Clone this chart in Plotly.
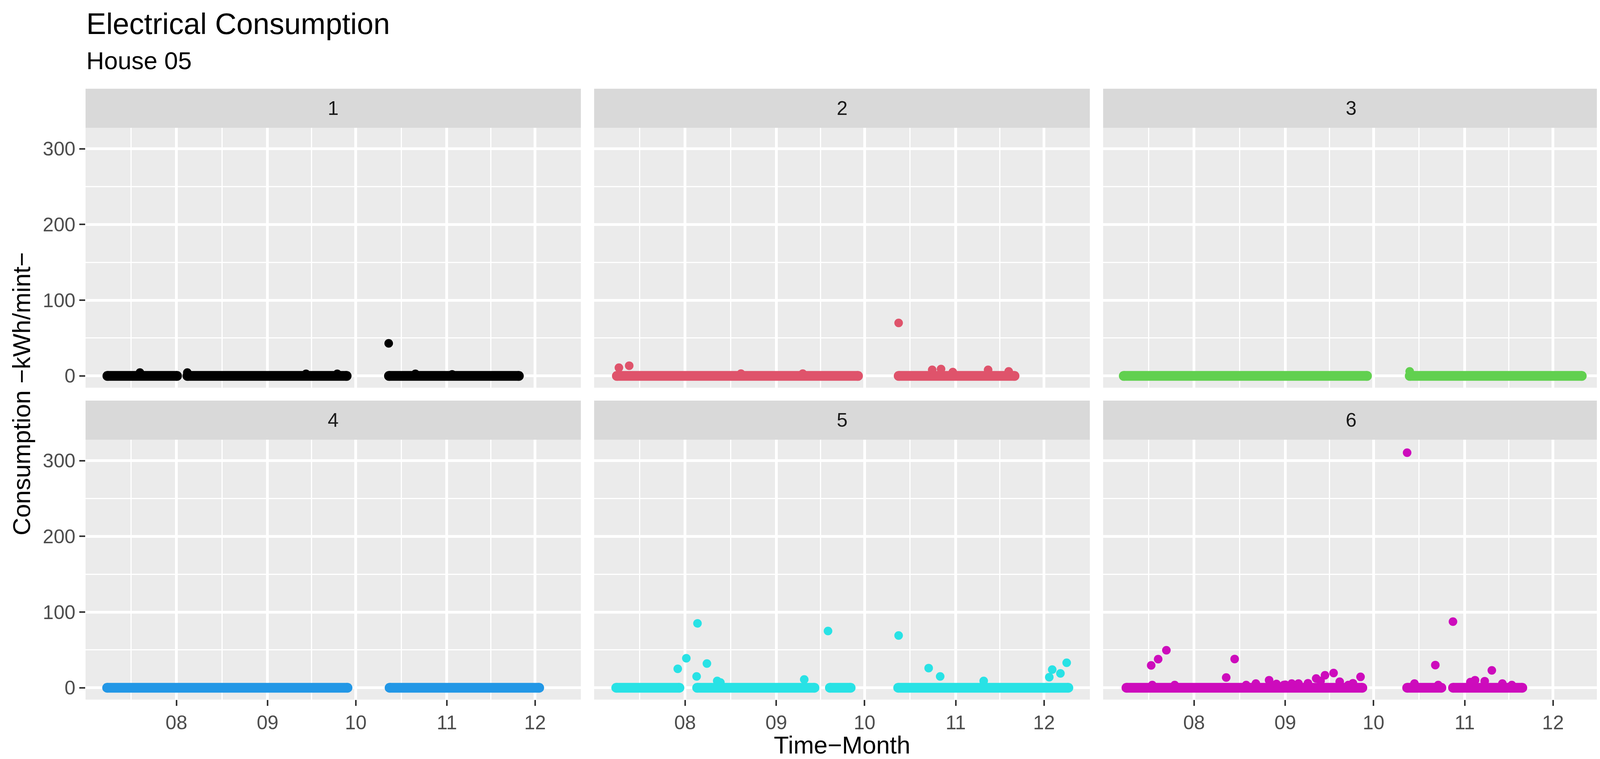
import plotly.graph_objects as go

# ---------------- data ----------------
channels = ["1", "2", "3", "4", "5", "6"]
colors = ["#000000", "#DF536B", "#61D04F", "#2297E6", "#28E2E5", "#CD0BBC"]

# dense runs of near-zero readings: (first reading, last reading)
runs_1 = [("2017-07-08 12:00", "2017-08-01 05:00"), ("2017-08-04 17:00", "2017-09-27 22:00"),
          ("2017-10-12 07:00", "2017-11-25 12:00")]
runs_2 = [("2017-07-08 19:00", "2017-09-28 19:00"), ("2017-10-12 14:00", "2017-11-21 00:00")]
runs_3 = [("2017-07-08 02:00", "2017-09-28 19:00"), ("2017-10-13 07:00", "2017-12-10 19:00")]
runs_4 = [("2017-07-08 10:00", "2017-09-28 05:00"), ("2017-10-12 12:00", "2017-12-02 10:00")]
runs_5 = [("2017-07-08 14:00", "2017-07-30 02:00"), ("2017-08-05 02:00", "2017-09-14 00:00"),
          ("2017-09-19 05:00", "2017-09-26 07:00"), ("2017-10-12 10:00", "2017-12-09 07:00")]
runs_6 = [("2017-07-09 00:00", "2017-09-27 05:00"), ("2017-10-12 10:00", "2017-10-24 02:00"),
          ("2017-10-28 00:00", "2017-11-20 14:00")]

# readings standing out of the runs
peak_time_1 = ["2017-10-12 05:00", "2017-07-19 14:00", "2017-08-04 17:00", "2017-09-14 02:00",
               "2017-09-24 17:00", "2017-10-21 07:00", "2017-11-02 19:00"]
peak_kwh_1 = [43, 4.4, 4.4, 2.7, 2.7, 2.7, 2.0]

peak_time_2 = ["2017-07-09 12:00", "2017-07-13 00:00", "2017-10-12 14:00", "2017-10-24 00:00",
               "2017-10-27 00:00", "2017-11-12 00:00", "2017-11-19 00:00", "2017-08-20 00:00",
               "2017-09-10 00:00", "2017-10-31 00:00"]
peak_kwh_2 = [10.8, 13.5, 70, 8, 9, 8, 6, 3, 3, 5]

peak_time_3 = ["2017-10-13 07:00"]
peak_kwh_3 = [6]

peak_time_4 = []
peak_kwh_4 = []

peak_time_5 = ["2017-07-29 12:00", "2017-08-01 10:00", "2017-08-04 22:00", "2017-08-05 05:00",
               "2017-08-08 10:00", "2017-08-11 22:00", "2017-08-13 00:00", "2017-09-10 12:00",
               "2017-09-18 14:00", "2017-10-12 14:00", "2017-10-22 19:00", "2017-10-26 17:00",
               "2017-11-10 12:00", "2017-12-02 19:00", "2017-12-03 19:00", "2017-12-06 14:00",
               "2017-12-08 17:00"]
peak_kwh_5 = [25, 39, 15, 85, 32, 9, 7, 11, 75, 69, 26, 15, 9, 14, 24, 19, 33]

peak_time_6 = ["2017-07-17 10:00", "2017-07-19 19:00", "2017-07-22 14:00", "2017-08-11 22:00",
               "2017-08-14 19:00", "2017-10-12 10:00", "2017-10-22 00:00", "2017-10-28 00:00",
               "2017-11-10 05:00", "2017-07-17 19:00", "2017-07-25 10:00", "2017-08-18 17:00",
               "2017-08-22 00:00", "2017-08-26 12:00", "2017-08-31 12:00", "2017-09-03 05:00",
               "2017-09-05 12:00", "2017-09-08 17:00", "2017-09-11 12:00", "2017-09-14 12:00",
               "2017-09-17 10:00", "2017-09-22 10:00", "2017-09-26 14:00", "2017-10-14 22:00",
               "2017-10-23 00:00", "2017-11-02 22:00", "2017-11-04 12:00", "2017-11-07 19:00",
               "2017-11-13 19:00", "2017-11-17 00:00", "2017-08-29 00:00", "2017-09-01 00:00",
               "2017-09-13 00:00", "2017-09-19 12:00", "2017-09-24 00:00"]
peak_kwh_6 = [29.6, 37.8, 49.6, 13.6, 38, 310.5, 30, 87.4, 23, 3.6, 3.6, 3.6,
              5.6, 10, 3.6, 5.6, 5.6, 6, 12.3, 16.5, 19.5, 3.6, 14.4, 5.6,
              3.6, 7.5, 10, 8.7, 5.6, 3.6, 5, 4, 9, 8, 6]

runs = [runs_1, runs_2, runs_3, runs_4, runs_5, runs_6]
peak_times = [peak_time_1, peak_time_2, peak_time_3, peak_time_4, peak_time_5, peak_time_6]
peak_vals = [peak_kwh_1, peak_kwh_2, peak_kwh_3, peak_kwh_4, peak_kwh_5, peak_kwh_6]

month_ticks = ["2017-08-01", "2017-09-01", "2017-10-01", "2017-11-01", "2017-12-01"]
month_labels = ["08", "09", "10", "11", "12"]
month_minor = ["2017-07-16 12:00", "2017-08-16 12:00", "2017-09-16 00:00",
               "2017-10-16 12:00", "2017-11-16 00:00"]
y_ticks = [0, 100, 200, 300]
y_minor = [50, 150, 250]

x_range = ["2017-07-01 02:00", "2017-12-16 14:00"]
y_range = [-15.6, 327.6]

# ---------------- layout constants ----------------
W, H = 4111, 1942
FONT = "Liberation Sans, Arial, Helvetica, sans-serif"
col_dom = [[0.05133, 0.35977], [0.36804, 0.67672], [0.68499, 0.99368]]
row_dom = [[0.4933, 0.8357], [0.0824, 0.4248]]
strip_h = 100 / H
MS = 22      # single reading
BAND = 25    # dense run of readings

fig = go.Figure()
layout_axes = {}
shapes = []
annotations = []

for i, ch in enumerate(channels):
    r, c = divmod(i, 3)
    n = i + 1
    xa = "x" if n == 1 else f"x{n}"
    ya = "y" if n == 1 else f"y{n}"

    bx, by = [], []
    for s, e in runs[i]:
        bx += [s, e, None]
        by += [0, 0, None]
    fig.add_trace(go.Scatter(x=bx, y=by, mode="lines+markers", xaxis=xa, yaxis=ya,
                             line=dict(color=colors[i], width=BAND),
                             marker=dict(color=colors[i], size=BAND),
                             connectgaps=False, hoverinfo="skip", showlegend=False))
    if peak_times[i]:
        fig.add_trace(go.Scatter(x=peak_times[i], y=peak_vals[i], mode="markers",
                                 xaxis=xa, yaxis=ya,
                                 marker=dict(color=colors[i], size=MS, line=dict(width=0)),
                                 showlegend=False))

    bottom = (r == 1)
    left = (c == 0)
    layout_axes[f"xaxis{'' if n == 1 else n}"] = dict(
        domain=col_dom[c], anchor=ya, type="date", range=x_range,
        tickmode="array", tickvals=month_ticks, ticktext=month_labels,
        showticklabels=bottom, ticks="outside" if bottom else "",
        ticklen=15, tickwidth=4, tickcolor="#333333",
        tickfont=dict(family=FONT, size=50, color="#4D4D4D"),
        showgrid=True, gridcolor="white", gridwidth=6.5,
        minor=dict(tickmode="array", tickvals=month_minor, showgrid=True,
                   gridcolor="white", gridwidth=3.2, ticks=""),
        zeroline=False, showline=False, fixedrange=True)
    layout_axes[f"yaxis{'' if n == 1 else n}"] = dict(
        domain=row_dom[r], anchor=xa, range=y_range,
        tickmode="array", tickvals=y_ticks,
        showticklabels=left, ticks="outside" if left else "",
        ticklen=15, tickwidth=4, tickcolor="#333333",
        tickfont=dict(family=FONT, size=50, color="#4D4D4D"),
        showgrid=True, gridcolor="white", gridwidth=6.5,
        minor=dict(tickmode="array", tickvals=y_minor, showgrid=True,
                   gridcolor="white", gridwidth=3.2, ticks=""),
        zeroline=False, showline=False, fixedrange=True)

    # facet strip
    y0 = row_dom[r][1]
    shapes.append(dict(type="rect", xref="paper", yref="paper",
                       x0=col_dom[c][0], x1=col_dom[c][1], y0=y0, y1=y0 + strip_h,
                       fillcolor="#D9D9D9", line=dict(width=0), layer="below"))
    annotations.append(dict(text=ch, xref="paper", yref="paper",
                            x=(col_dom[c][0] + col_dom[c][1]) / 2, y=y0 + strip_h / 2,
                            xanchor="center", yanchor="middle", showarrow=False,
                            font=dict(family=FONT, size=50, color="#1A1A1A")))

annotations += [
    dict(text="Electrical Consumption", xref="paper", yref="paper", x=col_dom[0][0], y=1 - 52 / H,
         xanchor="left", yanchor="middle", showarrow=False,
         font=dict(family=FONT, size=76, color="black")),
    dict(text="House 05", xref="paper", yref="paper", x=col_dom[0][0], y=1 - 147 / H,
         xanchor="left", yanchor="middle", showarrow=False,
         font=dict(family=FONT, size=63, color="black")),
    dict(text="Time\u2212Month", xref="paper", yref="paper",
         x=(col_dom[0][0] + col_dom[2][1]) / 2, y=1 - 1898 / H,
         xanchor="center", yanchor="middle", showarrow=False,
         font=dict(family=FONT, size=63, color="black")),
    dict(text="Consumption \u2212kWh/mint\u2212", xref="paper", yref="paper",
         x=47 / W, y=1 - 1000 / H, textangle=-90,
         xanchor="center", yanchor="middle", showarrow=False,
         font=dict(family=FONT, size=63, color="black")),
]

fig.update_layout(width=W, height=H, margin=dict(l=0, r=0, t=0, b=0),
                  paper_bgcolor="white", plot_bgcolor="#EBEBEB", showlegend=False,
                  shapes=shapes, annotations=annotations, **layout_axes)

fig.write_html("out.html")
